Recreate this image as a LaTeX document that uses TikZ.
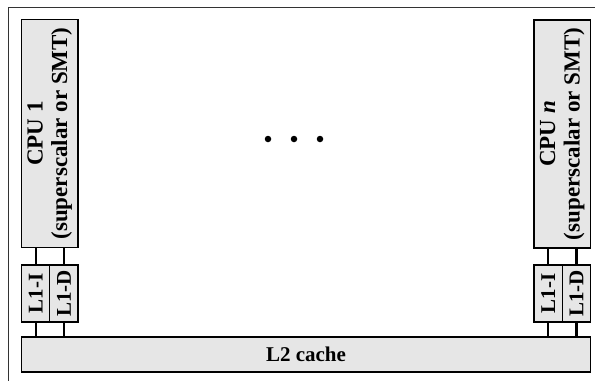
\documentclass[tikz,border=0pt]{standalone}
\usepackage{fontspec}
\setmainfont{Liberation Serif}
\definecolor{BoxFill}{HTML}{E6E6E6}
\definecolor{Frame}{HTML}{333333}
\tikzset{
  unit/.style={draw,fill=BoxFill,line width=1.4pt,inner sep=0pt,align=center,font=\fontsize{21}{23}\selectfont\bfseries},
  cpu/.style={unit,rotate=90,minimum width=228pt,minimum height=56.5pt,font=\fontsize{23}{24.5}\selectfont\bfseries},
  lone/.style={unit,rotate=90,minimum width=57pt,minimum height=28.25pt},
  bus/.style={draw,line width=2.2pt},
  frame/.style={draw=Frame,line width=1.5pt},
}

\begin{document}
\begin{tikzpicture}[x=1pt,y=-1pt]
  \useasboundingbox (0,0) rectangle (595,381);
  \draw[frame] (595,7.5) -| (8.5,381);

  \node[cpu] (cpu1) at (49.75,133.5) {CPU 1\\(superscalar or SMT)};
  \node[cpu] (cpun) at (562.25,134) {CPU \textit{n}\\(superscalar or SMT)};

  \node[lone] (l1i1) at (35.6,293.5) {L1-I};
  \node[lone] (l1d1) at (63.9,293.5) {L1-D};
  \node[lone] (l1in) at (548.1,293.5) {L1-I};
  \node[lone] (l1dn) at (576.4,293.5) {L1-D};

  \node[unit,minimum width=569pt,minimum height=35pt] (l2) at (306,354.5) {L2 cache};

  \foreach \i/\x in {1/268,2/294,3/320}
    \node[circle,fill,inner sep=0pt,minimum size=6.5pt] (dot\i) at (\x,139) {};

  % links between CPUs, L1 and L2
  \foreach \c in {i1,d1,in,dn} {
    \draw[bus] (l1\c.east) -- (l1\c.east |- cpu1.west);
    \draw[bus] (l1\c.west) -- (l1\c.west |- l2.north);
  }
\end{tikzpicture}
\end{document}
